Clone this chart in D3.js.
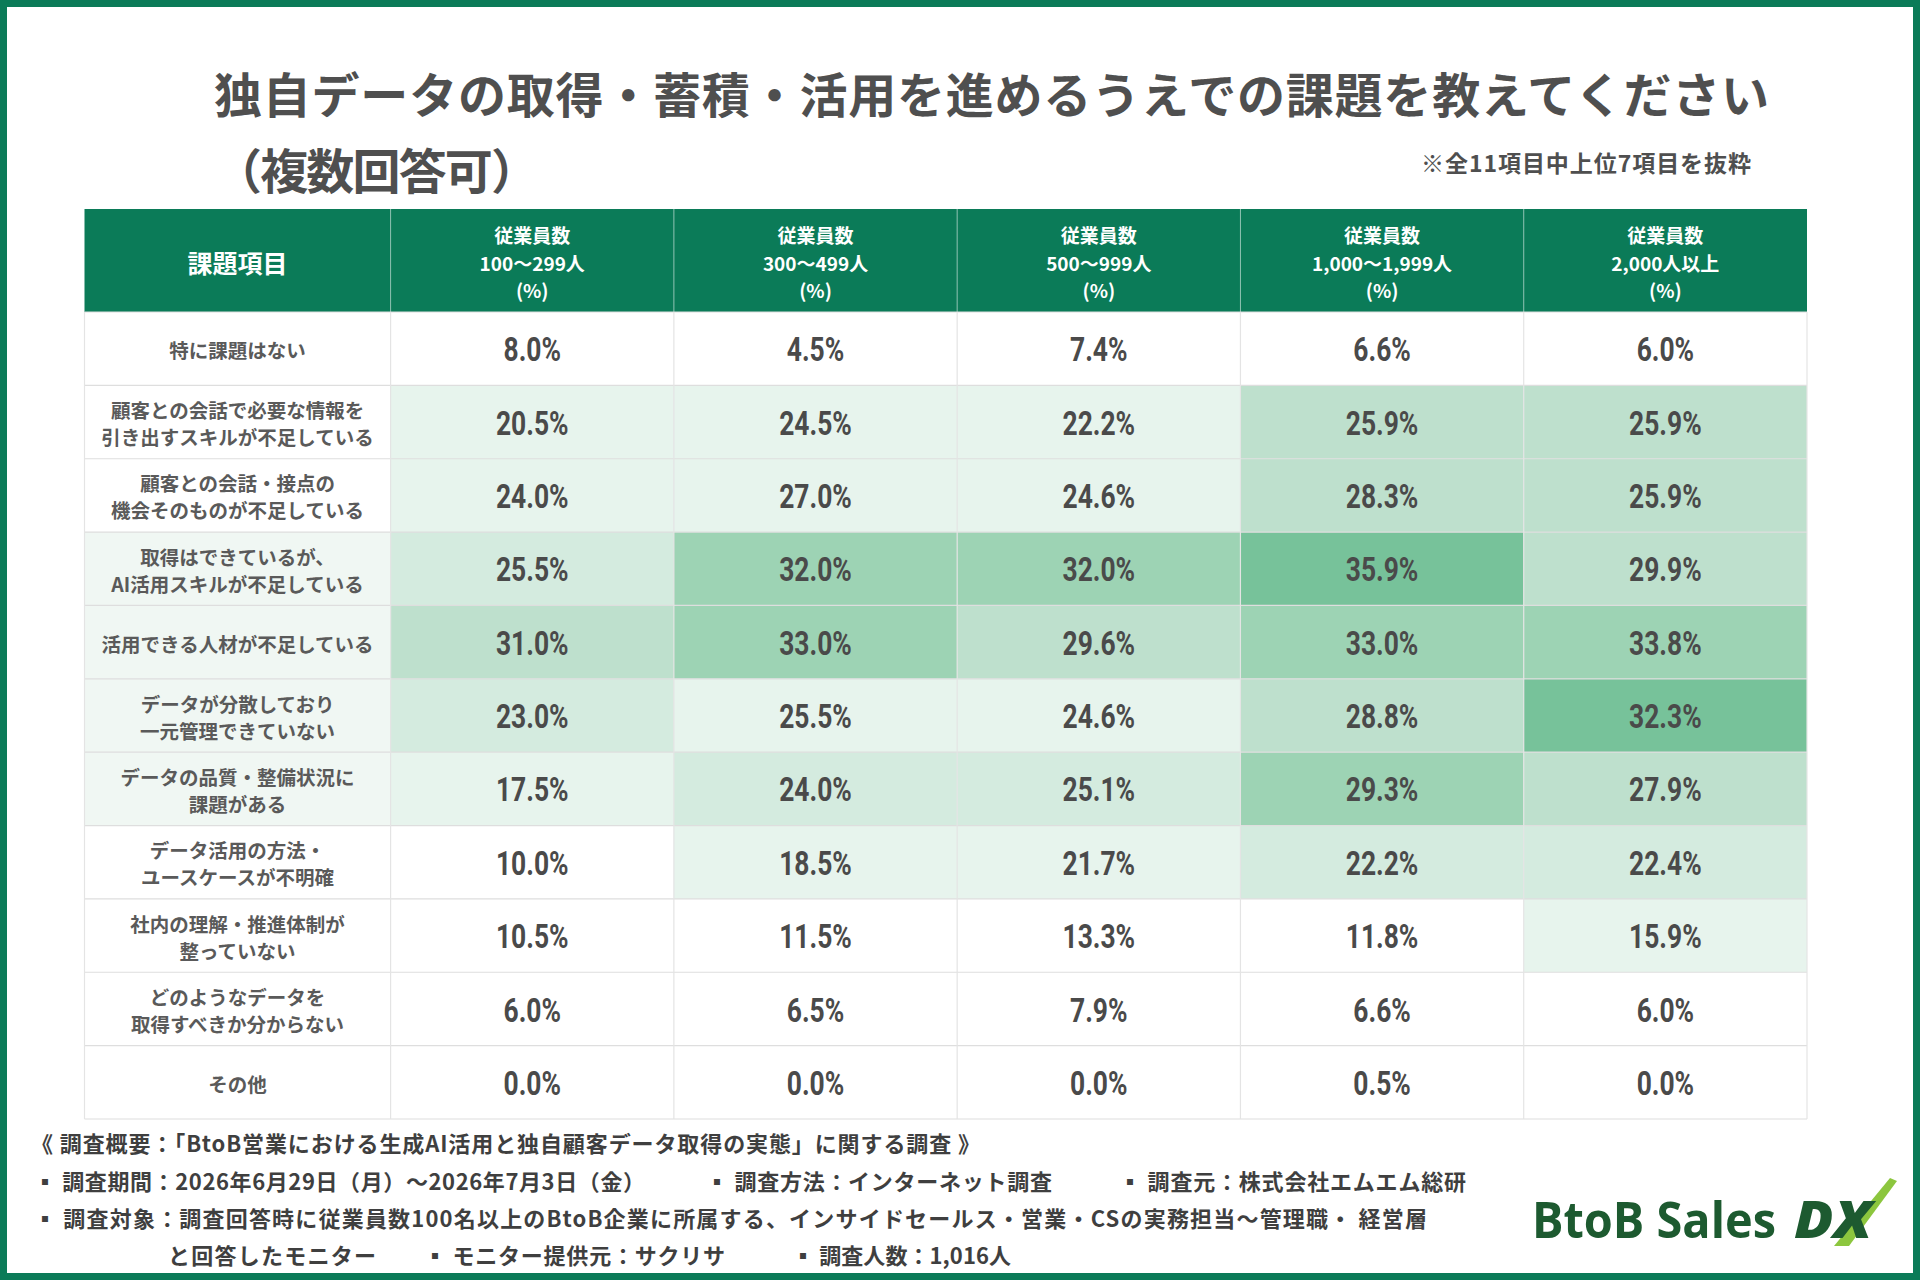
<!DOCTYPE html>
<html lang="ja">
<head>
<meta charset="utf-8">
<script src="https://cdn.jsdelivr.net/npm/d3@7"></script>
<style>
  html, body { margin: 0; padding: 0; background: #ffffff; }
  svg { display: block; }
  text { font-family: "Noto Sans CJK JP", "Noto Sans", sans-serif; }
</style>
</head>
<body>
<svg id="chart" width="1920" height="1280"></svg>
<script>
// ---------- DATA ----------
const titleLines = ["独自データの取得・蓄積・活用を進めるうえでの課題を教えてください", "（複数回答可）"];
const noteText = "※全11項目中上位7項目を抜粋";
const firstHeader = "課題項目";
const groups = ["100〜299人", "300〜499人", "500〜999人", "1,000〜1,999人", "2,000人以上"];
const items = [
  "特に課題はない",
  "顧客との会話で必要な情報を\n引き出すスキルが不足している",
  "顧客との会話・接点の\n機会そのものが不足している",
  "取得はできているが、\nAI活用スキルが不足している",
  "活用できる人材が不足している",
  "データが分散しており\n一元管理できていない",
  "データの品質・整備状況に\n課題がある",
  "データ活用の方法・\nユースケースが不明確",
  "社内の理解・推進体制が\n整っていない",
  "どのようなデータを\n取得すべきか分からない",
  "その他"
];
const values100 = [8.0, 20.5, 24.0, 25.5, 31.0, 23.0, 17.5, 10.0, 10.5, 6.0, 0.0];
const values300 = [4.5, 24.5, 27.0, 32.0, 33.0, 25.5, 24.0, 18.5, 11.5, 6.5, 0.0];
const values500 = [7.4, 22.2, 24.6, 32.0, 29.6, 24.6, 25.1, 21.7, 13.3, 7.9, 0.0];
const values1000 = [6.6, 25.9, 28.3, 35.9, 33.0, 28.8, 29.3, 22.2, 11.8, 6.6, 0.5];
const values2000 = [6.0, 25.9, 25.9, 29.9, 33.8, 32.3, 27.9, 22.4, 15.9, 6.0, 0.0];
// emphasis level (0 = none … 5 = strongest) as shaded in the source table
const level100 = [0, 1, 1, 2, 3, 2, 1, 0, 0, 0, 0];
const level300 = [0, 1, 1, 4, 4, 1, 2, 1, 0, 0, 0];
const level500 = [0, 1, 1, 4, 3, 1, 2, 1, 0, 0, 0];
const level1000 = [0, 3, 3, 5, 4, 3, 4, 2, 0, 0, 0];
const level2000 = [0, 3, 3, 3, 4, 5, 3, 2, 1, 0, 0];
const labelLevel = [0, 0, 0, 1, 1, 1, 1, 0, 0, 0, 0];
const footerLines = [
  [{t: "《 調査概要：「BtoB営業における生成AI活用と独自顧客データ取得の実態」に関する調査 》", x0: 31, x1: 980}],
  [{t: "▪ 調査期間：2026年6月29日（月）〜2026年7月3日（金）", x0: 34, x1: 645},
   {t: "▪ 調査方法：インターネット調査", x0: 706, x1: 1052},
   {t: "▪ 調査元：株式会社エムエム総研", x0: 1119, x1: 1466}],
  [{t: "▪ 調査対象：調査回答時に従業員数100名以上のBtoB企業に所属する、インサイドセールス・営業・CSの実務担当〜管理職・ 経営層", x0: 34, x1: 1427}],
  [{t: "と回答したモニター", x0: 168, x1: 376},
   {t: "▪ モニター提供元：サクリサ", x0: 424, x1: 725},
   {t: "▪ 調査人数：1,016人", x0: 792, x1: 1011}]
];

const valueSeries = [values100, values300, values500, values1000, values2000];
const levelSeries = [level100, level300, level500, level1000, level2000];

// ---------- LAYOUT ----------
const W = 1920, H = 1280;
const GREEN = "#0b7b58";
const svg = d3.select("#chart");

svg.append("rect").attr("x", 0).attr("y", 0).attr("width", W).attr("height", H).attr("fill", "#fff");

// Title
const titleG = svg.append("g");
titleG.append("text").text(titleLines[0])
  .attr("x", 214).attr("y", 92).attr("dominant-baseline", "central")
  .attr("font-size", 48).attr("font-weight", 700).attr("fill", "#4f4f4f")
  .attr("textLength", 1555).attr("lengthAdjust", "spacing");
titleG.append("text").text(titleLines[1])
  .attr("x", 214).attr("y", 168).attr("dominant-baseline", "central")
  .attr("font-size", 48).attr("font-weight", 700).attr("fill", "#4f4f4f")
  .attr("textLength", 325).attr("lengthAdjust", "spacing");
titleG.append("text").text(noteText)
  .attr("x", 1421).attr("y", 162).attr("dominant-baseline", "central")
  .attr("font-size", 23).attr("font-weight", 700).attr("fill", "#4f4f4f")
  .attr("textLength", 330).attr("lengthAdjust", "spacing");

// Table scales
const tableLeft = 84.5, tableRight = 1807, labelRight = 390.6;
const headTop = 209, headBottom = 312, tableBottom = 1119;
const x = d3.scaleBand().domain(groups).range([labelRight, tableRight]);
const y = d3.scaleBand().domain(d3.range(items.length)).range([headBottom, tableBottom]);
const shade = d3.scaleOrdinal().domain([0, 1, 2, 3, 4, 5])
  .range(["#ffffff", "#e7f4ed", "#d4ebdf", "#bee0cd", "#9dd3b4", "#77c29a"]);
const labelShade = d3.scaleOrdinal().domain([0, 1]).range(["#ffffff", "#f0f7f3"]);

// Header
const head = svg.append("g");
head.append("rect").attr("x", tableLeft).attr("y", headTop)
  .attr("width", tableRight - tableLeft).attr("height", headBottom - headTop).attr("fill", GREEN);
head.append("text").text(firstHeader)
  .attr("x", (tableLeft + labelRight) / 2).attr("y", (headTop + headBottom) / 2 + 1)
  .attr("text-anchor", "middle").attr("dominant-baseline", "central")
  .attr("font-size", 25).attr("font-weight", 700).attr("fill", "#fff");
const hc = head.selectAll("g.hcol").data(groups).join("g").attr("class", "hcol");
hc.append("line")
  .attr("x1", d => x(d)).attr("x2", d => x(d))
  .attr("y1", headTop).attr("y2", headBottom)
  .attr("stroke", "#ffffff").attr("stroke-opacity", 0.55).attr("stroke-width", 1);
hc.each(function(d) {
  const g = d3.select(this);
  const cx = x(d) + x.bandwidth() / 2, cy = (headTop + headBottom) / 2 + 1.5;
  ["従業員数", d, "(%)"].forEach((s, i) => {
    g.append("text").text(s)
      .attr("x", cx).attr("y", cy + (i - 1) * 27.5)
      .attr("text-anchor", "middle").attr("dominant-baseline", "central")
      .attr("font-size", 19).attr("font-weight", 700).attr("fill", "#fff");
  });
});

// Body cells
const body = svg.append("g");
const cells = [];
groups.forEach((g, ci) => items.forEach((it, ri) => cells.push({g, ri, v: valueSeries[ci][ri], lv: levelSeries[ci][ri]})));

body.selectAll("rect.lab").data(items).join("rect").attr("class", "lab")
  .attr("x", tableLeft).attr("y", (d, i) => y(i))
  .attr("width", labelRight - tableLeft).attr("height", y.bandwidth())
  .attr("fill", (d, i) => labelShade(labelLevel[i]));
body.selectAll("rect.cell").data(cells).join("rect").attr("class", "cell")
  .attr("x", d => x(d.g)).attr("y", d => y(d.ri))
  .attr("width", x.bandwidth()).attr("height", y.bandwidth())
  .attr("fill", d => shade(d.lv));

// grid lines
const grid = svg.append("g").attr("stroke", "#dedede").attr("stroke-width", 1.2);
grid.selectAll("line.h").data(d3.range(items.length + 1)).join("line").attr("class", "h")
  .attr("x1", tableLeft).attr("x2", tableRight)
  .attr("y1", i => i < items.length ? y(i) : tableBottom)
  .attr("y2", i => i < items.length ? y(i) : tableBottom);
grid.selectAll("line.v").data([tableLeft, labelRight].concat(groups.slice(1).map(g => x(g)), [tableRight])).join("line").attr("class", "v")
  .attr("x1", d => d).attr("x2", d => d)
  .attr("y1", headBottom).attr("y2", tableBottom)
  .attr("stroke", "#e4e4e4");

// label texts
body.selectAll("g.lt").data(items).join("g").attr("class", "lt")
  .each(function(d, i) {
    const lines = d.split("\n");
    const cy = y(i) + y.bandwidth() / 2 + 1;
    lines.forEach((s, k) => {
      d3.select(this).append("text").text(s)
        .attr("x", (tableLeft + labelRight) / 2)
        .attr("y", cy + (k - (lines.length - 1) / 2) * 27)
        .attr("text-anchor", "middle").attr("dominant-baseline", "central")
        .attr("font-size", 19.5).attr("font-weight", 700).attr("fill", "#5a5a5a");
    });
  });

// value texts (condensed look)
body.selectAll("text.val").data(cells).join("text").attr("class", "val")
  .text(d => d3.format(".1f")(d.v) + "%")
  .attr("transform", d => `translate(${x(d.g) + x.bandwidth() / 2},${y(d.ri) + y.bandwidth() / 2 + 1}) scale(0.8,1)`)
  .attr("text-anchor", "middle").attr("dominant-baseline", "central")
  .style("font-family", "Roboto, 'Liberation Sans', sans-serif")
  .attr("font-size", 33).attr("font-weight", 700)
  .attr("fill", "#4a4a4a");

// Footer
const foot = svg.append("g");
const footY = [1142, 1180, 1217, 1254];
footerLines.forEach((line, li) => {
  line.forEach(seg => {
    foot.append("text").text(seg.t)
      .attr("x", seg.x0).attr("y", footY[li]).attr("dominant-baseline", "central")
      .attr("font-size", 22).attr("font-weight", 700).attr("fill", "#3f3f3f")
      .attr("textLength", seg.x1 - seg.x0).attr("lengthAdjust", "spacing");
  });
});

// Logo
const logo = svg.append("g");
logo.append("path")
  .attr("d", "M1834,1246 L1849,1246 L1897,1181 L1890,1178 Z")
  .attr("fill", "#8cc63e");
logo.append("text").text("BtoB Sales")
  .attr("x", 1532).attr("y", 1238)
  .style("font-family", "'Open Sans', Roboto, sans-serif")
  .attr("font-size", 50).attr("font-weight", 700).attr("fill", "#1d5a30")
  .attr("textLength", 244).attr("lengthAdjust", "spacingAndGlyphs");
logo.append("text").text("DX")
  .attr("x", 1794).attr("y", 1238)
  .style("font-family", "'Open Sans', Roboto, sans-serif").style("font-style", "italic")
  .attr("font-size", 52).attr("font-weight", 800).attr("fill", "#1d5a30")
  .attr("textLength", 78).attr("lengthAdjust", "spacingAndGlyphs");

// Frame
svg.append("rect").attr("x", 3.5).attr("y", 3.5).attr("width", W - 7).attr("height", H - 7)
  .attr("fill", "none").attr("stroke", GREEN).attr("stroke-width", 7);
</script>
</body>
</html>
